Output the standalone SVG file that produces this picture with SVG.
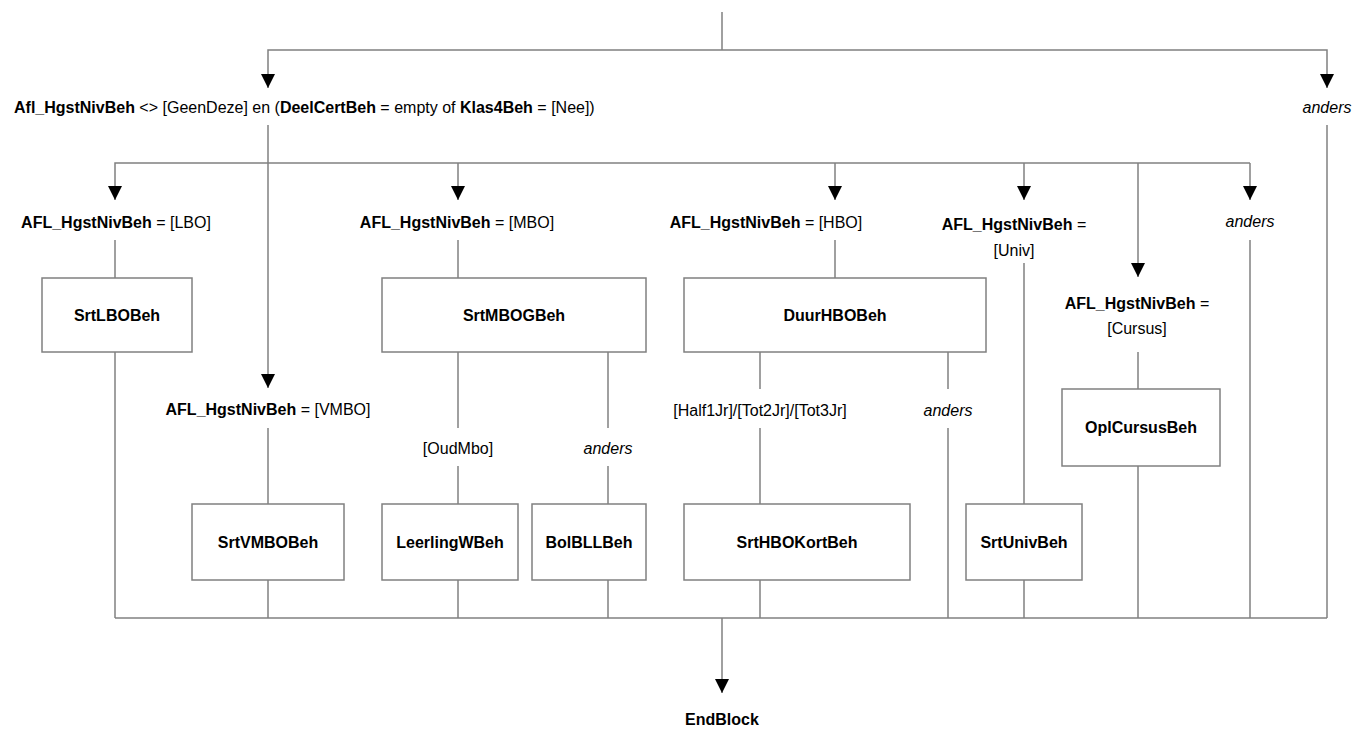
<svg xmlns="http://www.w3.org/2000/svg" width="1359" height="731" viewBox="0 0 1359 731">
<defs>
<style>
.c{fill:none;stroke:#808080;stroke-width:1.5}
.a{marker-end:url(#arr)}
.b{fill:#fff;stroke:#808080;stroke-width:1.5}
text{font-family:"Liberation Sans",Arial,sans-serif;font-size:16px;fill:#000}
.m{text-anchor:middle}
.bd{font-weight:bold}
.it{font-style:italic}
</style>
<marker id="arr" markerWidth="14" markerHeight="14" refX="14" refY="7" orient="auto" markerUnits="userSpaceOnUse">
<path d="M0,0 L14,7 L0,14 z" fill="#000"/>
</marker>
</defs>
<rect width="1359" height="731" fill="#fff"/>
<g id="connectors">
<path class="c" d="M722,12 V50"/>
<path class="c a" d="M722,50 H268 V88"/>
<path class="c a" d="M722,50 H1327 V88"/>
<path class="c a" d="M268,125 V388"/>
<path class="c" d="M268,163 H1250"/>
<path class="c a" d="M268,163 H115 V200"/>
<path class="c a" d="M458,163 V200"/>
<path class="c a" d="M835,163 V200"/>
<path class="c a" d="M1024,163 V200"/>
<path class="c a" d="M1250,163 V200"/>
<path class="c a" d="M1138,163 V277"/>
<path class="c" d="M115,240 V278"/>
<path class="c" d="M458,240 V278"/>
<path class="c" d="M835,240 V278"/>
<path class="c" d="M1024,263 V504"/>
<path class="c" d="M1250,240 V618"/>
<path class="c" d="M1138,352 V389"/>
<path class="c" d="M1327,125 V618"/>
<path class="c" d="M115,352 V618"/>
<path class="c" d="M268,428 V504"/>
<path class="c" d="M458,352 V428"/>
<path class="c" d="M608,352 V428"/>
<path class="c" d="M458,466 V504"/>
<path class="c" d="M608,466 V504"/>
<path class="c" d="M760,352 V389"/>
<path class="c" d="M948,352 V389"/>
<path class="c" d="M760,428 V504"/>
<path class="c" d="M948,428 V618"/>
<path class="c" d="M268,580 V618"/>
<path class="c" d="M458,580 V618"/>
<path class="c" d="M608,580 V618"/>
<path class="c" d="M760,580 V618"/>
<path class="c" d="M1024,580 V618"/>
<path class="c" d="M1138,466 V618"/>
<path class="c" d="M115,618 H1327"/>
<path class="c a" d="M722,618 V693"/>
</g>
<g id="labels">
<text x="14" y="113"><tspan class="bd">Afl_HgstNivBeh</tspan> &lt;&gt; [GeenDeze] en (<tspan class="bd">DeelCertBeh</tspan> = empty of <tspan class="bd">Klas4Beh</tspan> = [Nee])</text>
<text class="m it" x="1327" y="113">anders</text>
<text class="m" x="116" y="228"><tspan class="bd">AFL_HgstNivBeh</tspan> = [LBO]</text>
<text class="m" x="457" y="228"><tspan class="bd">AFL_HgstNivBeh</tspan> = [MBO]</text>
<text class="m" x="766" y="228"><tspan class="bd">AFL_HgstNivBeh</tspan> = [HBO]</text>
<text class="m" x="1014" y="230"><tspan class="bd">AFL_HgstNivBeh</tspan> =</text>
<text class="m" x="1014" y="256">[Univ]</text>
<text class="m it" x="1250" y="227">anders</text>
<text class="m" x="1137" y="309"><tspan class="bd">AFL_HgstNivBeh</tspan> =</text>
<text class="m" x="1137" y="334">[Cursus]</text>
<text class="m" x="268" y="415"><tspan class="bd">AFL_HgstNivBeh</tspan> = [VMBO]</text>
<text class="m" x="458" y="454">[OudMbo]</text>
<text class="m it" x="608" y="454">anders</text>
<text class="m" x="760" y="416">[Half1Jr]/[Tot2Jr]/[Tot3Jr]</text>
<text class="m it" x="948" y="416">anders</text>
</g>
<g id="SrtLBOBeh"><rect class="b" x="42" y="278" width="150" height="74"/><text class="m bd" x="117" y="321">SrtLBOBeh</text></g>
<g id="SrtMBOGBeh"><rect class="b" x="382" y="278" width="264" height="74"/><text class="m bd" x="514" y="321">SrtMBOGBeh</text></g>
<g id="DuurHBOBeh"><rect class="b" x="684" y="278" width="302" height="74"/><text class="m bd" x="835" y="321">DuurHBOBeh</text></g>
<g id="OplCursusBeh"><rect class="b" x="1062" y="389" width="158" height="77"/><text class="m bd" x="1141" y="433">OplCursusBeh</text></g>
<g id="SrtVMBOBeh"><rect class="b" x="192" y="504" width="152" height="76"/><text class="m bd" x="268" y="548">SrtVMBOBeh</text></g>
<g id="LeerlingWBeh"><rect class="b" x="382" y="504" width="136" height="76"/><text class="m bd" x="450" y="548">LeerlingWBeh</text></g>
<g id="BolBLLBeh"><rect class="b" x="532" y="504" width="114" height="76"/><text class="m bd" x="589" y="548">BolBLLBeh</text></g>
<g id="SrtHBOKortBeh"><rect class="b" x="684" y="504" width="226" height="76"/><text class="m bd" x="797" y="548">SrtHBOKortBeh</text></g>
<g id="SrtUnivBeh"><rect class="b" x="966" y="504" width="116" height="76"/><text class="m bd" x="1024" y="548">SrtUnivBeh</text></g>
<g id="EndBlock"><text class="m bd" x="722" y="725">EndBlock</text></g>
</svg>
